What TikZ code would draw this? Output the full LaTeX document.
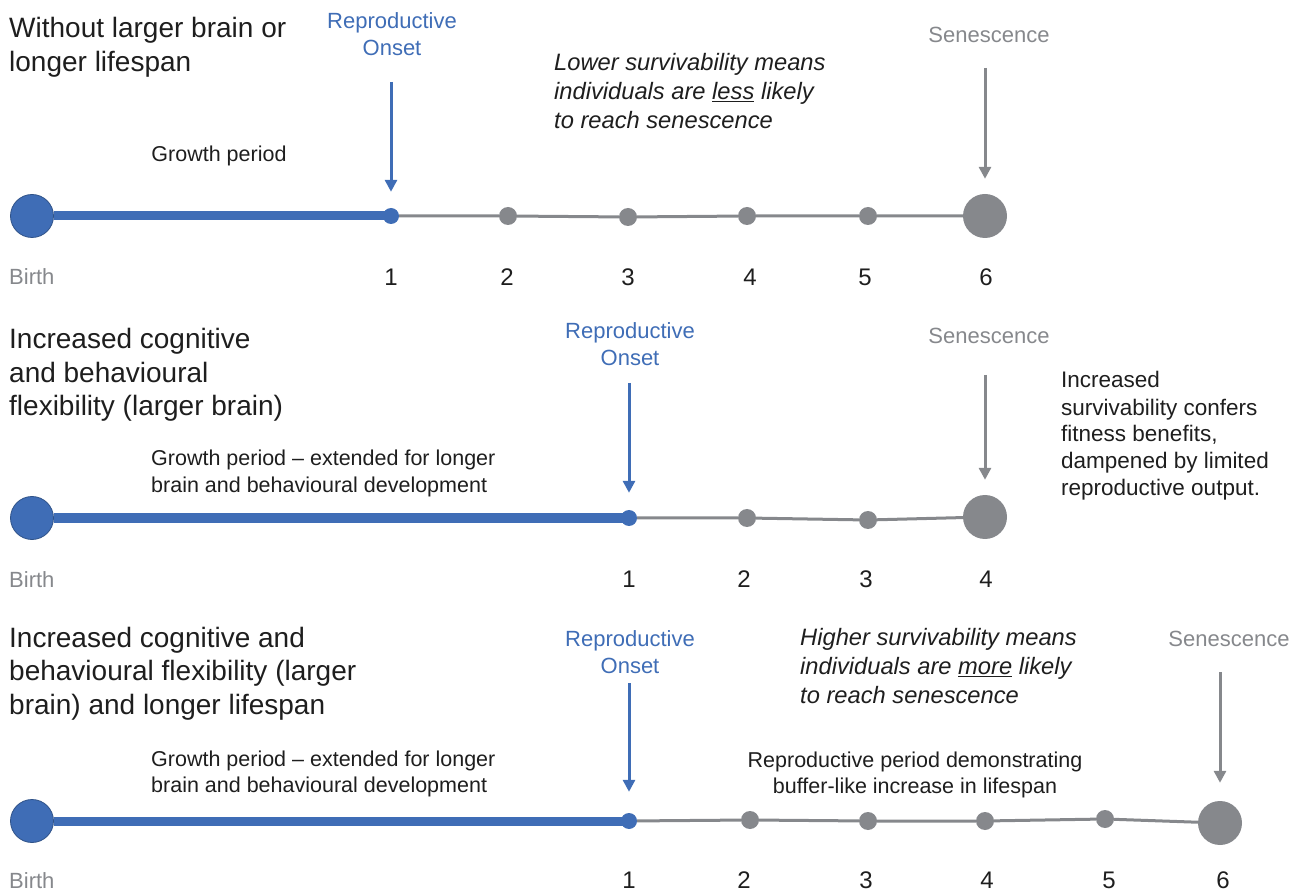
\documentclass[tikz,border=0pt]{standalone}
\usepackage{fontspec}
\setmainfont{Liberation Sans}
\usetikzlibrary{arrows.meta}
\definecolor{onsetblue}{HTML}{3F6DB6}
\definecolor{agegray}{HTML}{86888C}
\definecolor{ink}{HTML}{1E1E1E}
\tikzset{
  birth/.style={circle, draw=onsetblue!75!black, fill=onsetblue, line width=0.8pt, minimum size=43pt, inner sep=0pt},
  onset/.style={circle, fill=onsetblue, minimum size=16pt, inner sep=0pt},
  year/.style={circle, fill=agegray, minimum size=18pt, inner sep=0pt},
  death/.style={circle, fill=agegray, minimum size=44pt, inner sep=0pt},
  growth/.style={draw=onsetblue, line width=9pt},
  repro/.style={draw=agegray, line width=3pt},
  pointer/.style={line width=3pt, -{Triangle[length=12pt, width=12pt]}},
  heading/.style={anchor=base west, inner sep=0pt, align=left, text=ink, font=\fontsize{28}{33.5}\selectfont},
  note/.style={inner sep=0pt, text=ink, font=\fontsize{21.5}{26.5}\selectfont},
  remark/.style={anchor=base west, inner sep=0pt, align=left, text=ink, font=\fontsize{23.7}{29}\selectfont\itshape},
  marker/.style={anchor=base, inner sep=0pt, align=center, font=\fontsize{22}{27}\selectfont},
  age/.style={anchor=base, inner sep=0pt, text=ink, font=\fontsize{24}{28}\selectfont},
  start/.style={anchor=base west, inner sep=0pt, text=agegray, font=\fontsize{22}{26}\selectfont}
}
\begin{document}
\begin{tikzpicture}[x=1pt, y=-1pt]
    \useasboundingbox (0,0) rectangle (1302,890);

    % without larger brain or longer lifespan
    \node[heading] (T1) at (9,71.5) {Without larger brain or\\longer lifespan};
    \node[marker, text=onsetblue] (On1) at (392,56) {Reproductive\\Onset};
    \node[marker, text=agegray] (Se1) at (989,43) {Senescence};
    \node[remark] (Lo1) at (554,128.5) {Lower survivability means\\individuals are \underline{less} likely\\to reach senescence};
    \node[note, anchor=base] (G1) at (219,162) {Growth period};
    \node[birth] (B1) at (32,216) {};
    \node[onset] (R1) at (391,216) {};
    \node[year] (A12) at (508,216) {};
    \node[year] (A13) at (628,217) {};
    \node[year] (A14) at (747,216) {};
    \node[year] (A15) at (868,216) {};
    \node[death] (D1) at (985,216) {};
    \coordinate (OnTop1) at (391,82);
    \coordinate (SeTop1) at (985,68);
    \node[start] (Bi1) at (9,285) {Birth};
    \node[age] (N11) at (391,286) {1};
    \node[age] (N12) at (507,286) {2};
    \node[age] (N13) at (628,286) {3};
    \node[age] (N14) at (750,286) {4};
    \node[age] (N15) at (865,286) {5};
    \node[age] (N16) at (986,286) {6};

    \draw[growth] (B1) -- (R1.center);
    \draw[repro] (R1) -- (A12) -- (A13) -- (A14) -- (A15) -- (D1);
    \draw[pointer, onsetblue, shorten >=16pt] (OnTop1) -- (R1);
    \draw[pointer, agegray, shorten >=15pt] (SeTop1) -- (D1);

    % larger brain
    \node[heading] (T2) at (9,416) {Increased cognitive\\and behavioural\\flexibility (larger brain)};
    \node[marker, text=onsetblue] (On2) at (630,366) {Reproductive\\Onset};
    \node[marker, text=agegray] (Se2) at (989,344) {Senescence};
    \node[note, anchor=base west, align=left] (G2) at (151,492.5) {Growth period -- extended for longer\\brain and behavioural development};
    \node[note, anchor=base west, align=left, font=\fontsize{22.5}{27}\selectfont] (Fi2) at (1061,496) {Increased\\survivability confers\\fitness benefits,\\dampened by limited\\reproductive output.};
    \node[birth] (B2) at (32,518) {};
    \node[onset] (R2) at (629,518) {};
    \node[year] (A22) at (747,518) {};
    \node[year] (A23) at (868,520) {};
    \node[death] (D2) at (985,517) {};
    \coordinate (OnTop2) at (629,383);
    \coordinate (SeTop2) at (985,375);
    \node[start] (Bi2) at (9,587) {Birth};
    \node[age] (N21) at (629,587) {1};
    \node[age] (N22) at (744,587) {2};
    \node[age] (N23) at (866,587) {3};
    \node[age] (N24) at (986,587) {4};

    \draw[growth] (B2) -- (R2.center);
    \draw[repro] (R2) -- (A22) -- (A23) -- (D2);
    \draw[pointer, onsetblue, shorten >=17pt] (OnTop2) -- (R2);
    \draw[pointer, agegray, shorten >=15pt] (SeTop2) -- (D2);

    % larger brain and longer lifespan
    \node[heading] (T3) at (9,714) {Increased cognitive and\\behavioural flexibility (larger\\brain) and longer lifespan};
    \node[marker, text=onsetblue] (On3) at (630,673) {Reproductive\\Onset};
    \node[marker, text=agegray] (Se3) at (1229,646) {Senescence};
    \node[remark] (Hi3) at (800,703.5) {Higher survivability means\\individuals are \underline{more} likely\\to reach senescence};
    \node[note, anchor=base west, align=left] (G3) at (151,792.5) {Growth period -- extended for longer\\brain and behavioural development};
    \node[note, anchor=base, align=center] (P3) at (915,793.5) {Reproductive period demonstrating\\buffer-like increase in lifespan};
    \node[birth] (B3) at (32,821) {};
    \node[onset] (R3) at (629,821) {};
    \node[year] (A32) at (750,820) {};
    \node[year] (A33) at (868,821) {};
    \node[year] (A34) at (985,821) {};
    \node[year] (A35) at (1105,819) {};
    \node[death] (D3) at (1220,823) {};
    \coordinate (OnTop3) at (629,683);
    \coordinate (SeTop3) at (1220,672);
    \node[start] (Bi3) at (9,888) {Birth};
    \node[age] (N31) at (629,888) {1};
    \node[age] (N32) at (744,888) {2};
    \node[age] (N33) at (866,888) {3};
    \node[age] (N34) at (987,888) {4};
    \node[age] (N35) at (1109,888) {5};
    \node[age] (N36) at (1223,888) {6};

    \draw[growth] (B3) -- (R3.center);
    \draw[repro] (R3) -- (A32) -- (A33) -- (A34) -- (A35) -- (D3);
    \draw[pointer, onsetblue, shorten >=21pt] (OnTop3) -- (R3);
    \draw[pointer, agegray, shorten >=18pt] (SeTop3) -- (D3);
\end{tikzpicture}
\end{document}
